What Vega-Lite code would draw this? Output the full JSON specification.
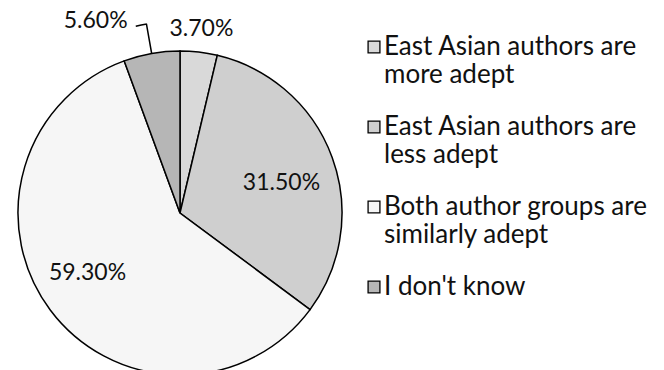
{
  "$schema": "https://vega.github.io/schema/vega-lite/v6.json",
  "width": 360,
  "height": 426,
  "autosize": "none",
  "padding": {"left": 0, "top": 0, "right": 304, "bottom": 0},
  "background": "white",
  "config": {
    "view": {"stroke": null},
    "style": {"guide-label": {"lineHeight": 28}}
  },
  "data": {
    "values": [
      {"category": "East Asian authors are more adept", "share": 0.037, "order": 1},
      {"category": "East Asian authors are less adept", "share": 0.315, "order": 2},
      {"category": "Both author groups are similarly adept", "share": 0.593, "order": 3},
      {"category": "I don't know", "share": 0.056, "order": 4}
    ]
  },
  "encoding": {
    "theta": {"field": "share", "type": "quantitative", "stack": true},
    "order": {"field": "order", "type": "quantitative"}
  },
  "layer": [
    {
      "mark": {"type": "arc", "outerRadius": 162, "stroke": "black", "strokeWidth": 1.5},
      "encoding": {
        "color": {
          "field": "category",
          "type": "nominal",
          "sort": ["East Asian authors are more adept", "East Asian authors are less adept", "Both author groups are similarly adept", "I don't know"],
          "scale": {
            "domain": ["East Asian authors are more adept", "East Asian authors are less adept", "Both author groups are similarly adept", "I don't know"],
            "range": ["#d9d9d9", "#cfcfcf", "#f6f6f6", "#b6b6b6"]
          },
          "legend": {
            "orient": "none",
            "legendX": 361,
            "legendY": 34,
            "title": null,
            "symbolType": "square",
            "symbolSize": 140,
            "symbolStrokeColor": "black",
            "symbolStrokeWidth": 1.3,
            "labelFont": "Lato",
            "labelFontSize": 26,
            "labelColor": "#111",
            "labelLimit": 400,
            "rowPadding": 26,
            "labelOffset": -3,
            "labelExpr": "datum.label == 'East Asian authors are more adept' ? ['East Asian authors are', 'more adept'] : datum.label == 'East Asian authors are less adept' ? ['East Asian authors are', 'less adept'] : datum.label == 'Both author groups are similarly adept' ? ['Both author groups are', 'similarly adept'] : datum.label"
          }
        }
      }
    },
    {
      "mark": {"type": "arc", "radius": 162, "radius2": 192, "padAngle": 1, "stroke": "black", "strokeWidth": 1.5, "fillOpacity": 0},
      "encoding": {
        "detail": {"field": "category", "type": "nominal"},
        "strokeOpacity": {"condition": {"test": "datum.category == \"I don't know\"", "value": 1}, "value": 0}
      }
    },
    {
      "mark": {"type": "arc", "radius": 192, "radius2": 192, "thetaOffset": -0.0274, "padAngle": 0.2067, "stroke": "black", "strokeWidth": 1.5, "fillOpacity": 0},
      "encoding": {
        "detail": {"field": "category", "type": "nominal"},
        "strokeOpacity": {"condition": {"test": "datum.category == \"I don't know\"", "value": 1}, "value": 0}
      }
    },
    {
      "mark": {"type": "text", "radius": 108, "font": "Lato", "fontSize": 23, "color": "#111", "dy": 7},
      "encoding": {
        "detail": {"field": "category", "type": "nominal"},
        "text": {"field": "share", "type": "quantitative", "format": ".2%"},
        "opacity": {"condition": {"test": "datum.category == 'East Asian authors are less adept'", "value": 1}, "value": 0}
      }
    },
    {
      "mark": {"type": "text", "radius": 108, "font": "Lato", "fontSize": 23, "color": "#111", "dx": -6, "dy": -5},
      "encoding": {
        "detail": {"field": "category", "type": "nominal"},
        "text": {"field": "share", "type": "quantitative", "format": ".2%"},
        "opacity": {"condition": {"test": "datum.category == 'Both author groups are similarly adept'", "value": 1}, "value": 0}
      }
    },
    {
      "mark": {"type": "text", "radius": 185, "font": "Lato", "fontSize": 23, "color": "#111"},
      "encoding": {
        "detail": {"field": "category", "type": "nominal"},
        "text": {"field": "share", "type": "quantitative", "format": ".2%"},
        "opacity": {"condition": {"test": "datum.category == 'East Asian authors are more adept'", "value": 1}, "value": 0}
      }
    },
    {
      "mark": {"type": "text", "radius": 185, "font": "Lato", "fontSize": 23, "color": "#111", "align": "right", "dx": -20, "dy": -10},
      "encoding": {
        "detail": {"field": "category", "type": "nominal"},
        "text": {"field": "share", "type": "quantitative", "format": ".2%"},
        "opacity": {"condition": {"test": "datum.category == \"I don't know\"", "value": 1}, "value": 0}
      }
    }
  ]
}
